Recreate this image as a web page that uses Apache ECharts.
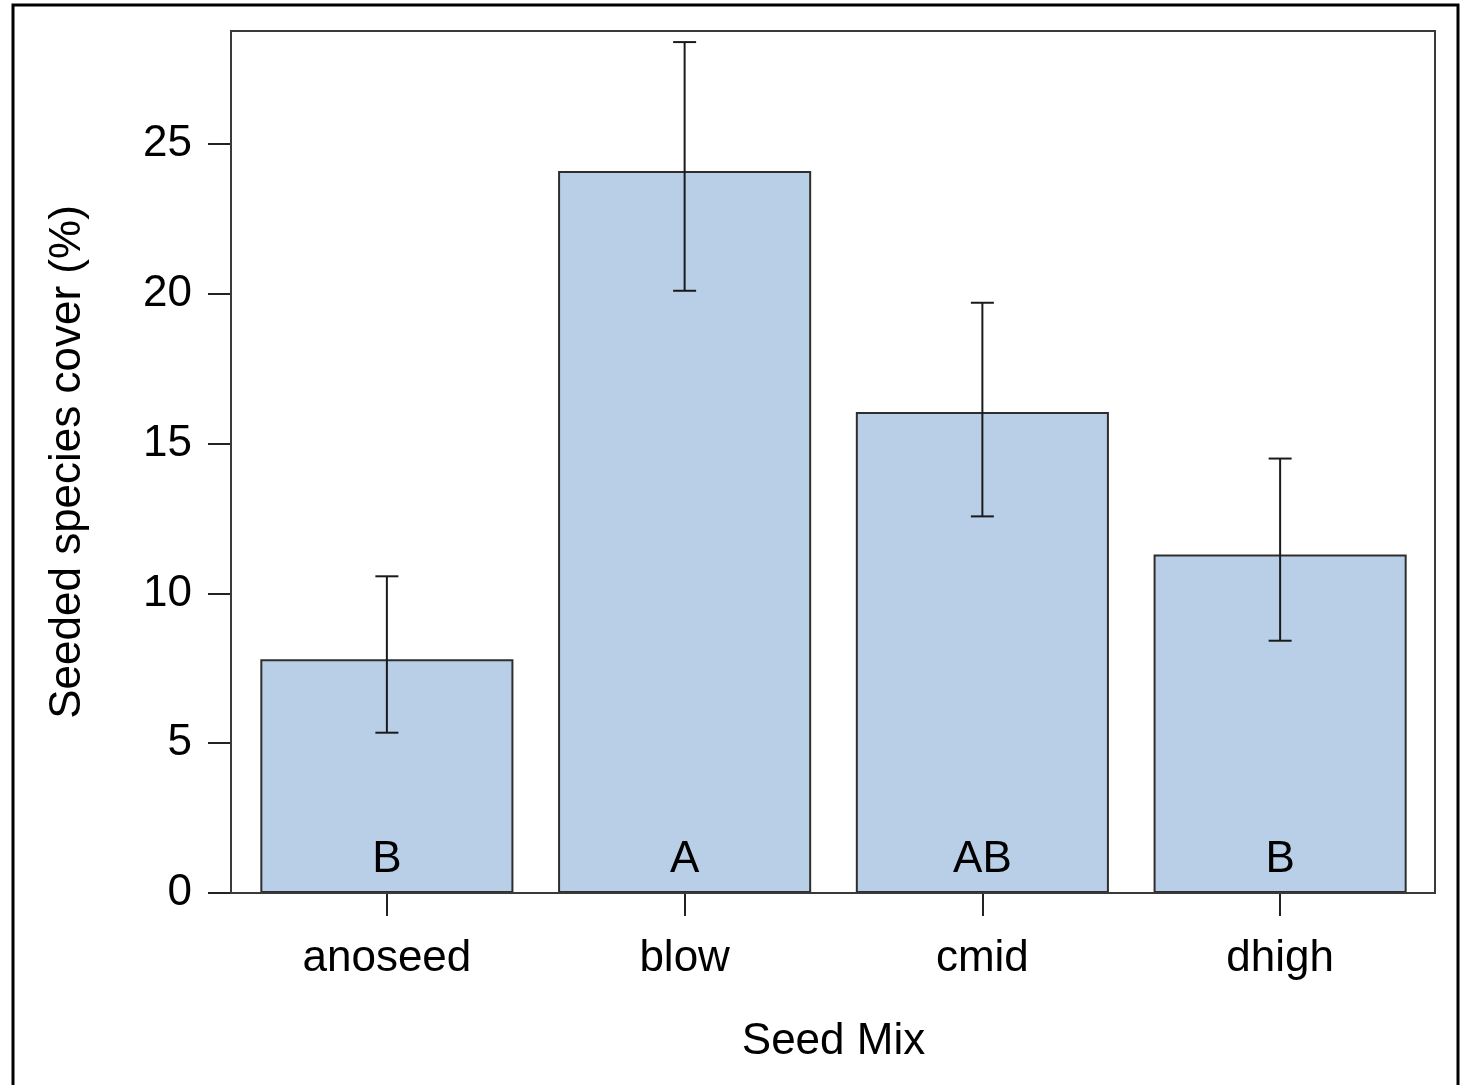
<!DOCTYPE html>
<html>
<head>
<meta charset="utf-8">
<script src="https://cdn.jsdelivr.net/npm/echarts@6/dist/echarts.min.js"></script>
<style>html,body{margin:0;padding:0;background:#fff;}#c{width:1468px;height:1085px;}</style>
</head>
<body>
<div id="c"></div>
<script>
const categories = ['anoseed', 'blow', 'cmid', 'dhigh'];
const means = [7.8, 24.1, 16.05, 11.3];
const lower = [5.35, 20.1, 12.57, 8.42];
const upper = [10.57, 28.4, 19.7, 14.5];
const letters = ['B', 'A', 'AB', 'B'];
const yTicks = [0, 5, 10, 15, 20, 25];
const yMax = 28.77;

const FONT = '"Liberation Sans", Arial, Helvetica, sans-serif';
const chart = echarts.init(document.getElementById('c'), null, {renderer: 'canvas'});

const errData = categories.map((c, i) => [i, lower[i], upper[i]]);

chart.setOption({
  backgroundColor: '#ffffff',
  animation: false,
  textStyle: {fontFamily: FONT},
  graphic: [{
    type: 'rect', z: 100,
    shape: {x: 13, y: 5, width: 1445, height: 1100},
    style: {fill: null, stroke: '#000', lineWidth: 3}
  }],
  grid: [
    {left: 238, right: 39, top: 31, bottom: 192, show: false},
    {left: 231, right: 33, top: 31, bottom: 192, show: true, borderColor: '#3a3a3a', borderWidth: 2, backgroundColor: 'transparent', z: 10}
  ],
  xAxis: [{
    type: 'category', gridIndex: 0, data: categories,
    axisLine: {show: true, lineStyle: {color: '#222', width: 2}},
    axisTick: {show: true, alignWithLabel: true, length: 23, lineStyle: {color: '#222', width: 2}},
    axisLabel: {fontSize: 44, color: '#000', margin: 44, fontFamily: FONT},
    name: 'Seed Mix', nameLocation: 'middle', nameGap: 127,
    nameTextStyle: {fontSize: 44, color: '#000', fontFamily: FONT}
  }],
  yAxis: [{
    type: 'value', gridIndex: 0, min: 0, max: yMax, interval: 5, offset: 7,
    splitLine: {show: false},
    axisLine: {show: true, lineStyle: {color: '#222', width: 2}},
    axisTick: {show: true, length: 23, customValues: yTicks, lineStyle: {color: '#222', width: 2}},
    axisLabel: {fontSize: 44, color: '#000', margin: 39, customValues: yTicks, fontFamily: FONT},
    name: 'Seeded species cover (%)', nameLocation: 'middle', nameGap: 141, nameRotate: 90,
    nameTextStyle: {fontSize: 44, color: '#000', fontFamily: FONT}
  }],
  series: [{
    type: 'bar', xAxisIndex: 0, yAxisIndex: 0, data: means,
    barCategoryGap: '15%',
    itemStyle: {color: '#b9cfe7', borderColor: '#2e2e2e', borderWidth: 2},
    label: {
      show: true, position: 'insideBottom', distance: 11,
      formatter: p => letters[p.dataIndex],
      fontSize: 44, color: '#000', fontFamily: FONT
    }
  }, {
    type: 'custom', xAxisIndex: 0, yAxisIndex: 0, data: errData, z: 5,
    renderItem: function (params, api) {
      const x = api.value(0);
      const lo = api.coord([x, api.value(1)]);
      const hi = api.coord([x, api.value(2)]);
      const hw = 11.5;
      const st = {stroke: '#1a1a1a', lineWidth: 2};
      return {type: 'group', children: [
        {type: 'line', shape: {x1: lo[0], y1: lo[1], x2: hi[0], y2: hi[1]}, style: st},
        {type: 'line', shape: {x1: lo[0] - hw, y1: lo[1], x2: lo[0] + hw, y2: lo[1]}, style: st},
        {type: 'line', shape: {x1: hi[0] - hw, y1: hi[1], x2: hi[0] + hw, y2: hi[1]}, style: st}
      ]};
    }
  }]
});
</script>
</body>
</html>
